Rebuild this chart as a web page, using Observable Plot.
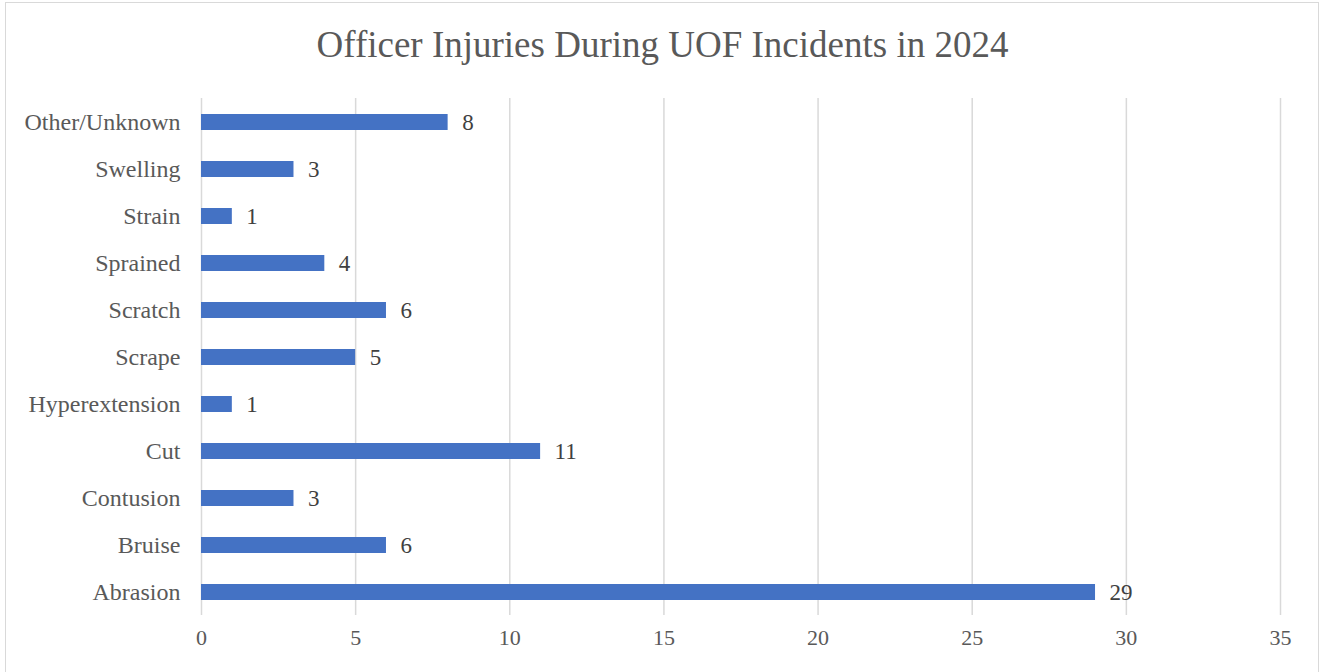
<!DOCTYPE html>
<html>
<head>
<meta charset="utf-8">
<script src="https://cdn.jsdelivr.net/npm/d3@7"></script>
<script src="https://cdn.jsdelivr.net/npm/@observablehq/plot@0.6"></script>
<style>
  html, body { margin: 0; padding: 0; background: #fff; overflow: hidden; }
  #wrap { position: relative; width: 1325px; height: 672px; overflow: hidden; }
  #frame { position: absolute; left: 5px; top: 2px; width: 1314px; height: 700px; border: 1px solid #d9d9d9; box-sizing: border-box; }
  #title { position: absolute; left: 0; top: 0; width: 1325px; height: 80px; text-align: center;
           font-family: "Liberation Serif", "Times New Roman", serif; font-size: 37px; color: #595959; line-height: 90px; }
  #chart { position: absolute; left: 0; top: 80px; }
</style>
</head>
<body>
<div id="wrap">
  <div id="frame"></div>
  <div id="title">Officer Injuries During UOF Incidents in 2024</div>
  <div id="chart"></div>
</div>
<script>
const categories = ["Other/Unknown", "Swelling", "Strain", "Sprained", "Scratch", "Scrape", "Hyperextension", "Cut", "Contusion", "Bruise", "Abrasion"];
const values = [8, 3, 1, 4, 6, 5, 1, 11, 3, 6, 29];
const xTicks = [0, 5, 10, 15, 20, 25, 30, 35];

const data = categories.map((c, i) => ({category: c, value: values[i]}));

const chart = Plot.plot({
  width: 1325,
  height: 592,
  marginLeft: 201,
  marginRight: 45,
  marginTop: 18,
  marginBottom: 57,
  style: { fontFamily: "'Liberation Serif', 'Times New Roman', serif", fontSize: "23px", color: "#595959", background: "transparent" },
  x: { domain: [0, 35], ticks: xTicks, label: null },
  y: { domain: categories, paddingInner: 0.66, paddingOuter: 0.33, label: null },
  marks: [
    Plot.gridX(xTicks, { stroke: "#d9d9d9", strokeOpacity: 1, strokeWidth: 1.5 }),
    Plot.barX(data, { x: "value", y: "category", fill: "#4472c4" }),
    Plot.text(data, { x: "value", y: "category", text: d => String(d.value), textAnchor: "start", dx: 14, fill: "#404040", fontSize: 23 }),
    Plot.axisX(xTicks, { tickSize: 0, tickPadding: 14, fontSize: 22, fill: "#595959", label: null }),
    Plot.axisY({ tickSize: 0, tickPadding: 21, fontSize: 24, fill: "#595959", label: null })
  ]
});
document.getElementById("chart").appendChild(chart);
</script>
</body>
</html>
